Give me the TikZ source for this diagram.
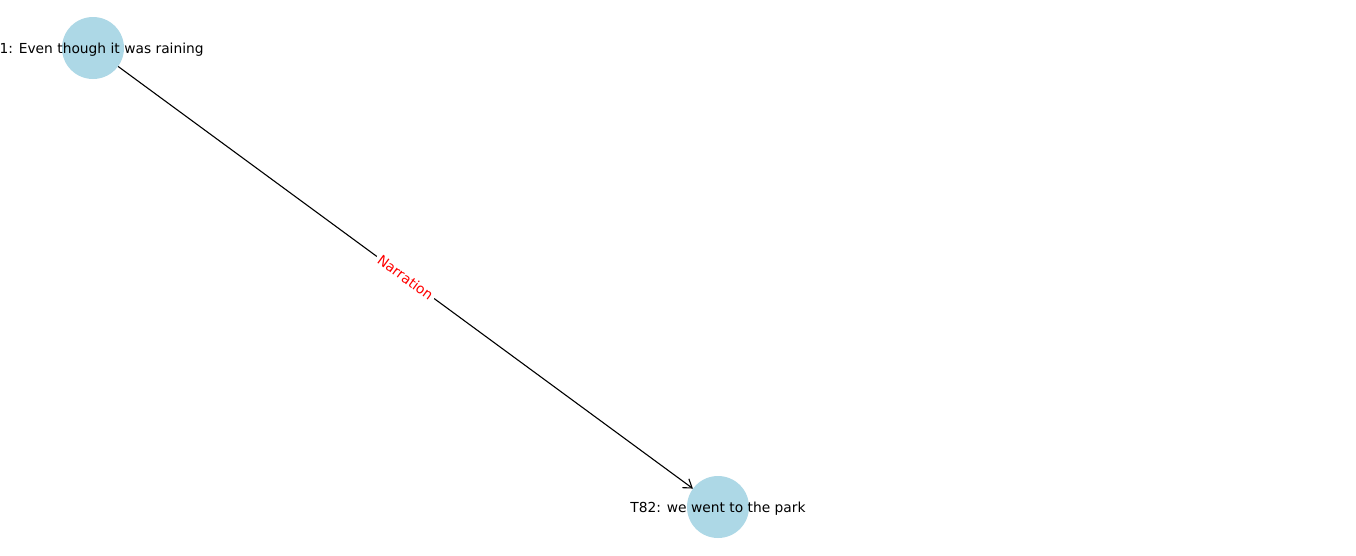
\documentclass[tikz,border=0pt]{standalone}
\usepackage{fontspec}
\setmainfont{DejaVu Sans}
\usetikzlibrary{arrows.meta}
\definecolor{nodeblue}{HTML}{ADD8E6}
\tikzset{
  dotnode/.style={circle, fill=nodeblue, draw=none, minimum size=62pt, inner sep=0pt},
  txt/.style={font=\fontsize{13.8}{16}\selectfont, inner sep=0pt, text=black, yshift=-1.5pt},
  edgelbl/.style={font=\fontsize{13.8}{16}\selectfont, text=red, fill=white, sloped, inner sep=3pt},
  conn/.style={draw=black, line width=1.1pt, -{Straight Barb[length=8pt, width=11pt, line width=1.1pt]}}
}
\begin{document}
\begin{tikzpicture}[x=1pt, y=-1pt]
\useasboundingbox (0,0) rectangle (1356,555);
\clip (0,0) rectangle (1356,555);
\fill[white] (0,0) rectangle (1356,555);
\node[dotnode] (n1) at (93,48) {};
\node[dotnode] (n2) at (718,507) {};
\draw[conn] (n1) -- (n2) node[edgelbl, midway] {Narration};
\node[txt] (t1) at (n1) {T81: Even though it was raining};
\node[txt] (t2) at (n2) {T82: we went to the park};
\end{tikzpicture}
\end{document}
